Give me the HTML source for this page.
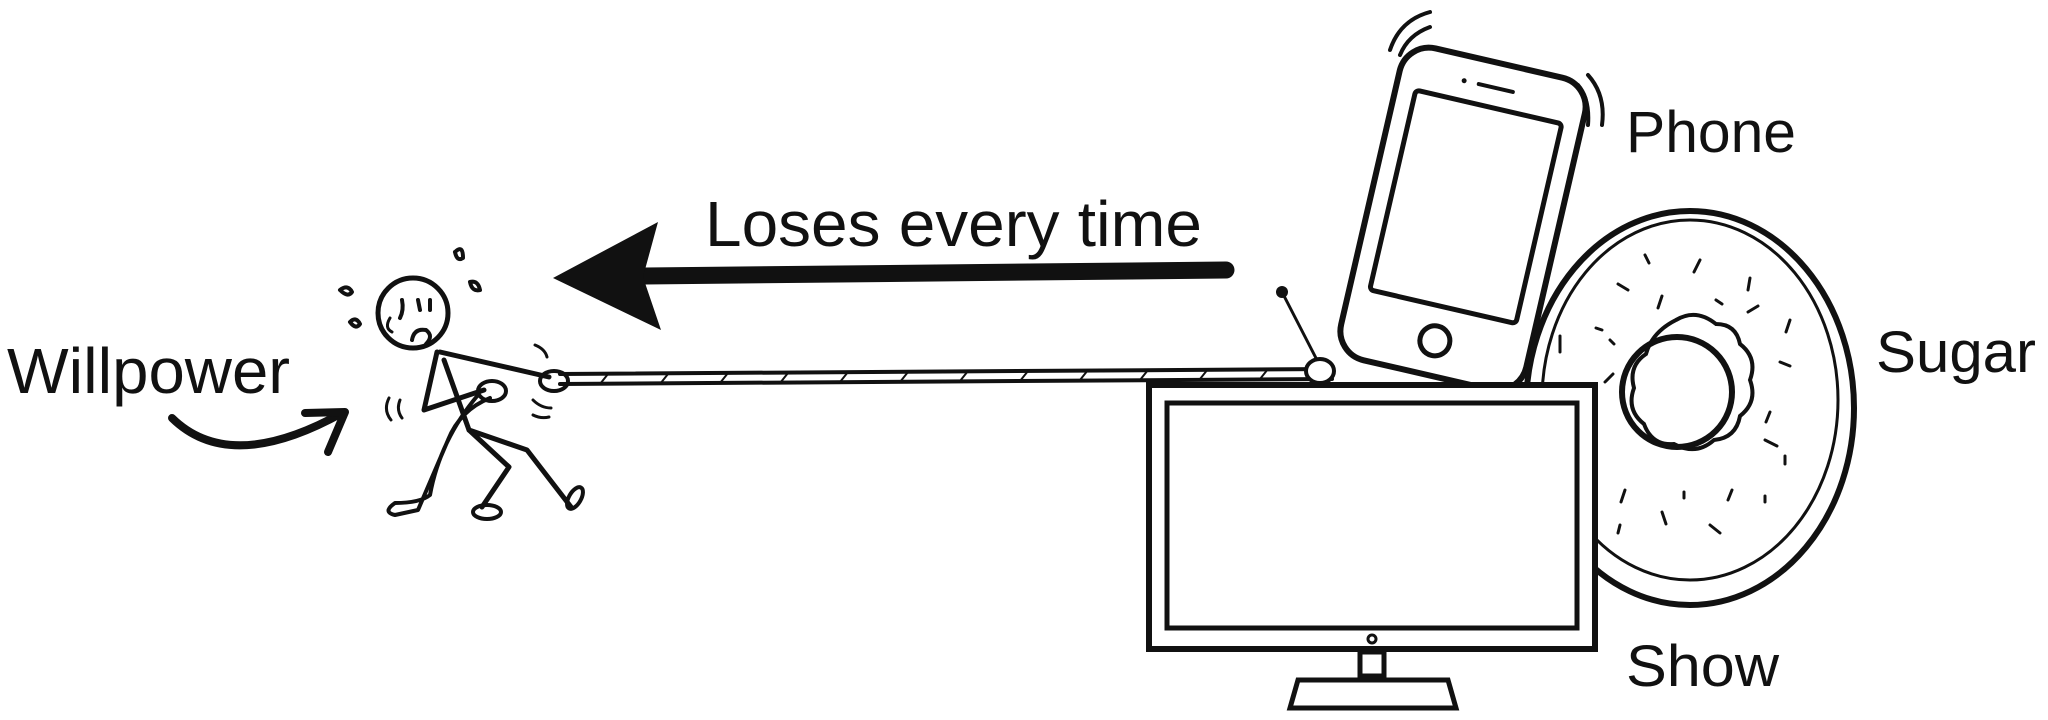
<!DOCTYPE html>
<html><head><style>
html,body{margin:0;padding:0;background:#fff;}
svg{display:block}
text{font-family:"Liberation Sans",sans-serif;fill:#111}
</style></head><body>
<svg width="2048" height="720" viewBox="0 0 2048 720" xmlns="http://www.w3.org/2000/svg">
<rect width="2048" height="720" fill="#fff"/>
<g fill="none" stroke="#111" stroke-linecap="round" stroke-linejoin="round">
<!-- Willpower curved arrow -->
<path d="M172 418 Q230 475 342 413" stroke-width="8"/>
<path d="M305 413 L345 412 L328 452" stroke-width="8"/>
<!-- stick figure -->
<circle cx="413" cy="313" r="35" stroke-width="5"/>
<path d="M402 300 q2 10 -2 18 M418 300 l2 10 M430 300 l0 10" stroke-width="4"/>
<path d="M412 340 q2 -12 14 -10 q8 6 0 14" stroke-width="4"/>
<path d="M390 318 q-6 10 2 14" stroke-width="3"/>
<path d="M437 352 L424 410 L484 390" stroke-width="5"/>
<path d="M440 352 L549 377" stroke-width="5"/>
<path d="M444 360 L469 430 L527 450 L571 507" stroke-width="5"/>
<path d="M469 430 L509 467 L482 507" stroke-width="5"/>
<ellipse cx="554" cy="381" rx="14" ry="10" stroke-width="4"/>
<ellipse cx="492" cy="391" rx="14" ry="10" stroke-width="4"/>
<ellipse cx="575" cy="498" rx="6" ry="12" transform="rotate(30 575 498)" stroke-width="4"/>
<ellipse cx="487" cy="512" rx="14" ry="7" stroke-width="4"/>
<path d="M478 395 Q440 440 430 495 Q420 503 395 503 Q382 512 395 515 L418 510 Q435 470 448 440 Q460 410 490 398" stroke-width="4"/>
<path d="M340 290 q8 -6 12 2 q-4 6 -12 -2 M350 322 q6 -6 10 2 q-4 6 -10 -2 M455 252 q8 -8 8 6 q-6 4 -8 -6 M470 282 q8 -2 10 8 q-8 2 -10 -8" stroke-width="4"/>
<path d="M389 398 q-6 12 2 22 M400 400 q-4 10 2 18 M535 345 q10 4 12 12 M533 400 q8 8 18 8 M533 415 q8 4 16 2" stroke-width="3"/>
<!-- rope -->
<path d="M560 374 L1332 369 M560 384 L1332 379" stroke-width="4"/>
<path d="M600 384 l8 -10 M660 384 l8 -10 M720 383 l8 -10 M780 383 l8 -10 M840 382 l8 -10 M900 382 l8 -10 M960 381 l8 -10 M1020 381 l8 -10 M1080 380 l8 -10 M1140 380 l8 -10 M1200 379 l8 -10 M1260 379 l8 -10" stroke-width="2"/>
<!-- big arrow shaft -->
<path d="M1226 270 L645 276" stroke-width="17"/>
</g>
<path d="M553 278 L658 222 L643 277 L661 330 Z" fill="#111"/>
<!-- phone -->
<g transform="translate(1463 219) rotate(13)" fill="none" stroke="#111" stroke-linecap="round">
<rect x="-95" y="-160" width="190" height="320" rx="30" fill="#fff" stroke-width="6"/>
<rect x="-75" y="-115" width="150" height="205" rx="4" stroke-width="5"/>
<circle cx="0" cy="125" r="15" stroke-width="5"/>
<path d="M-15 -135 L20 -135" stroke-width="4"/>
<circle cx="-30" cy="-135" r="2" fill="#111"/>
</g>
<g fill="none" stroke="#111" stroke-width="4" stroke-linecap="round">
<path d="M1390 50 q10 -30 40 -38 M1400 55 q8 -20 30 -28 M1588 75 q18 20 14 50 M1578 85 q12 14 10 40"/>
</g>
<!-- donut -->
<g fill="none" stroke="#111" stroke-linecap="round">
<ellipse cx="1690" cy="408" rx="164" ry="197" stroke-width="6"/>
<ellipse cx="1690" cy="400" rx="148" ry="180" stroke-width="3"/>
<path d="M1676 320 q20 -12 40 4 q20 0 24 20 q18 14 10 36 q8 22 -10 36 q-4 22 -26 24 q-18 16 -40 4 q-22 2 -30 -20 q-18 -14 -10 -36 q-6 -22 12 -34 q6 -22 30 -34z" stroke-width="4"/>
<circle cx="1677" cy="392" r="55" stroke-width="6"/>
<g stroke-width="3">
<path d="M1645 255 l4 8 M1700 260 l-6 12 M1750 278 l-2 12 M1618 284 l10 6 M1662 296 l-4 12 M1716 300 l6 4 M1758 306 l-10 6 M1596 328 l6 2 M1790 320 l-4 12 M1560 336 l0 16 M1610 340 l4 4 M1780 362 l10 4 M1605 382 l8 -8 M1770 412 l-4 10 M1765 440 l12 6 M1785 456 l0 8 M1625 490 l-4 12 M1684 492 l0 6 M1732 490 l-4 10 M1765 496 l0 6 M1620 525 l-2 8 M1662 512 l4 12 M1710 525 l10 8 M1580 470 l-4 10 M1590 510 l0 6"/>
</g>
</g>
<!-- TV -->
<g fill="none" stroke="#111" stroke-linecap="round">
<rect x="1149" y="385" width="446" height="264" fill="#fff" stroke-width="6"/>
<rect x="1167" y="403" width="410" height="225" stroke-width="5"/>
<circle cx="1372" cy="639" r="4" stroke-width="3"/>
<rect x="1360" y="652" width="24" height="24" stroke-width="5"/>
<path d="M1298 680 L1448 680 L1456 708 L1290 708 Z" stroke-width="5"/>
<path d="M1282 292 L1318 362" stroke-width="3"/>
<ellipse cx="1320" cy="371" rx="14" ry="12" fill="#fff" stroke-width="4"/>
</g>
<circle cx="1282" cy="292" r="6" fill="#111"/>
<!-- labels -->
<text x="7" y="393" font-size="64" textLength="283" lengthAdjust="spacingAndGlyphs">Willpower</text>
<text x="705" y="246" font-size="64" textLength="497" lengthAdjust="spacingAndGlyphs">Loses every time</text>
<text x="1626" y="152" font-size="58" textLength="170" lengthAdjust="spacingAndGlyphs">Phone</text>
<text x="1876" y="372" font-size="58" textLength="160" lengthAdjust="spacingAndGlyphs">Sugar</text>
<text x="1626" y="686" font-size="58" textLength="153" lengthAdjust="spacingAndGlyphs">Show</text>
</svg>
</body></html>
